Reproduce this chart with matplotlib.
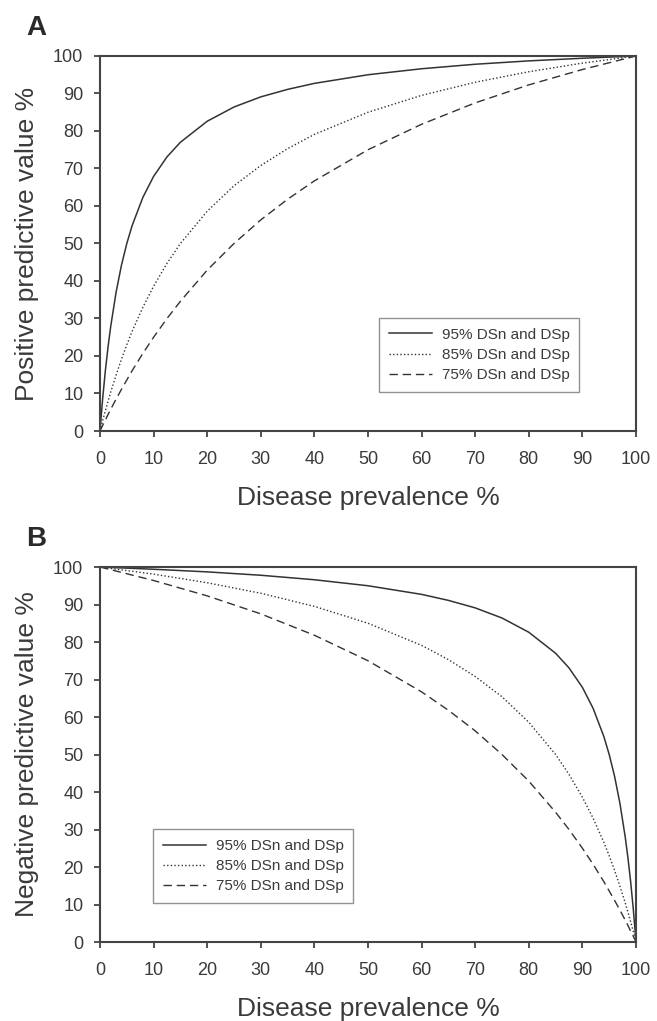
import matplotlib
matplotlib.use("Agg")
import matplotlib.pyplot as plt

plt.rcParams['font.family'] = ['Liberation Sans', 'DejaVu Sans']

# ---- data ----
x_ppv = [0, 0.5, 1, 1.5, 2, 3, 4, 5, 6, 8, 10, 12.5, 15, 20, 25, 30, 35, 40, 50, 60, 70, 80, 90, 100]
ppv95 = [0, 8.7, 16.1, 22.4, 27.9, 37.0, 44.2, 50.0, 54.8, 62.3, 67.9, 73.1, 77.0, 82.6, 86.4, 89.1, 91.1, 92.7, 95.0, 96.6, 97.8, 98.7, 99.4, 100]
ppv85 = [0, 2.8, 5.4, 7.9, 10.4, 14.9, 19.1, 23.0, 26.6, 33.0, 38.6, 44.7, 50.0, 58.6, 65.4, 70.8, 75.3, 79.1, 85.0, 89.5, 93.0, 95.8, 98.1, 100]
ppv75 = [0, 1.5, 2.9, 4.4, 5.8, 8.5, 11.1, 13.6, 16.1, 20.7, 25.0, 30.0, 34.6, 42.9, 50.0, 56.3, 61.8, 66.7, 75.0, 81.8, 87.5, 92.3, 96.4, 100]

x_npv = [0, 10, 20, 30, 40, 50, 60, 65, 70, 75, 80, 85, 87.5, 90, 92, 94, 95, 96, 97, 98, 98.5, 99, 99.5, 100]
npv95 = [100, 99.4, 98.7, 97.8, 96.6, 95.0, 92.7, 91.1, 89.1, 86.4, 82.6, 77.0, 73.1, 67.9, 62.3, 54.8, 50.0, 44.2, 37.0, 27.9, 22.4, 16.1, 8.7, 0]
npv85 = [100, 98.1, 95.8, 93.0, 89.5, 85.0, 79.1, 75.3, 70.8, 65.4, 58.6, 50.0, 44.7, 38.6, 33.0, 26.6, 23.0, 19.1, 14.9, 10.4, 7.9, 5.4, 2.8, 0]
npv75 = [100, 96.4, 92.3, 87.5, 81.8, 75.0, 66.7, 61.8, 56.3, 50.0, 42.9, 34.6, 30.0, 25.0, 20.7, 16.1, 13.6, 11.1, 8.5, 5.8, 4.4, 2.9, 1.5, 0]

series_labels = ["95% DSn and DSp", "85% DSn and DSp", "75% DSn and DSp"]
ticks = [0, 10, 20, 30, 40, 50, 60, 70, 80, 90, 100]
xlabel = "Disease prevalence %"
ylabels = ["Positive predictive value %", "Negative predictive value %"]
panel_letters = ["A", "B"]

# ---- styling ----
W, H = 657, 1021
fig = plt.figure(figsize=(W / 100, H / 100), dpi=100)
fig.patch.set_facecolor("white")

line_col = "#333333"
spine_col = "#444444"
text_col = "#3a3a3a"
styles = ["-", (0, (1, 1.6)), (0, (6, 3.5))]
lws = [1.1, 1.0, 1.0]

ax_left, ax_right = 100 / W, 636 / W
panels = [(56, 431), (567, 942)]
legend_anchor = [(0.5205, 0.104), (0.0989, 0.104)]
data = [(x_ppv, [ppv95, ppv85, ppv75]), (x_npv, [npv95, npv85, npv75])]
letter_y = [28, 539]

for i, (top, bot) in enumerate(panels):
    ax = fig.add_axes([ax_left, 1 - bot / H, ax_right - ax_left, (bot - top) / H])
    xs, ys = data[i]
    for y, st, lw, lab in zip(ys, styles, lws, series_labels):
        ax.plot(xs, y, linestyle=st, color=line_col, lw=lw, label=lab)
    ax.set_xlim(0, 100)
    ax.set_ylim(0, 100)
    ax.set_xticks(ticks)
    ax.set_yticks(ticks)
    for s in ax.spines.values():
        s.set_color(spine_col)
        s.set_linewidth(1.5)
    ax.tick_params(axis="both", direction="out", length=4, width=1.3,
                   color=spine_col, labelsize=13, labelcolor=text_col)
    ax.tick_params(axis="x", pad=10.5)
    ax.tick_params(axis="y", pad=8)
    ax.set_xlabel(xlabel, fontsize=19, color=text_col, labelpad=13)
    ax.set_ylabel(ylabels[i], fontsize=19, color=text_col, labelpad=10)
    leg = ax.legend(loc="lower left", bbox_to_anchor=legend_anchor[i],
                    borderaxespad=0, fontsize=11, frameon=True, fancybox=False,
                    handlelength=2.8, handletextpad=0.65, labelspacing=0.4,
                    borderpad=0.65)
    leg.get_frame().set_edgecolor("#777777")
    leg.get_frame().set_linewidth(1.0)
    for t in leg.get_texts():
        t.set_color(text_col)
    fig.text(36 / W, 1 - letter_y[i] / H, panel_letters[i], fontsize=20,
             fontweight="bold", color="#2a2a2a", ha="center", va="center")

fig.savefig("out.png", dpi=100, facecolor="white")
